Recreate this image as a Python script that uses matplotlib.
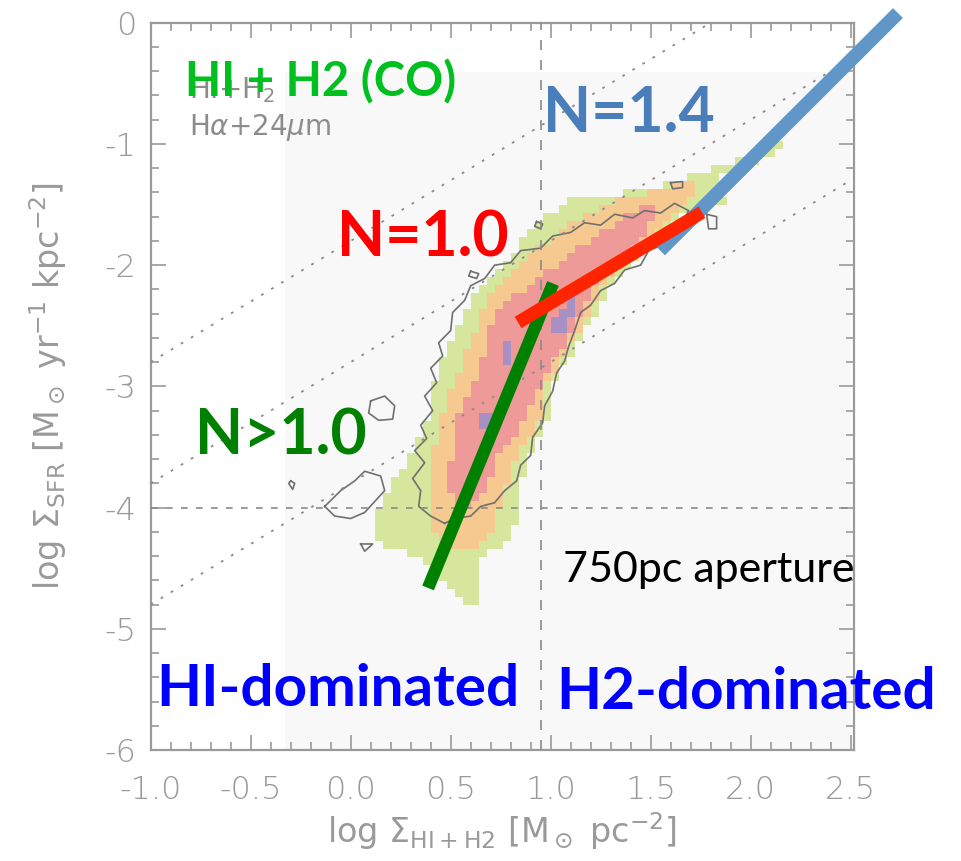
import numpy as np
import matplotlib
matplotlib.use("Agg")
import matplotlib.pyplot as plt
from matplotlib.colors import ListedColormap
from matplotlib.ticker import MultipleLocator, FormatStrFormatter

# --- density bands of the 750pc-aperture pixels (log Sigma_SFR rows, x-range per level)
green_y  = [-4.77, -4.61, -4.44, -4.27, -4.08, -3.80, -3.53, -3.26, -2.98, -2.70, -2.43,
            -2.29, -2.15, -1.96, -1.80, -1.63, -1.47, -1.38, -1.30, -1.18, -1.05, -0.97]
green_lo = [0.58, 0.45, 0.35, 0.13, 0.11, 0.21, 0.30, 0.38, 0.41, 0.48, 0.55,
            0.61, 0.65, 0.78, 0.85, 0.95, 1.08, 1.45, 1.62, 1.85, 2.02, 2.10]
green_hi = [0.65, 0.65, 0.63, 0.78, 0.83, 0.85, 0.91, 0.98, 1.01, 1.11, 1.21,
            1.25, 1.31, 1.41, 1.51, 1.61, 1.88, 1.85, 1.80, 1.98, 2.15, 2.18]

orange_y  = [-4.36, -4.27, -4.08, -3.80, -3.53, -3.26, -2.98, -2.70, -2.43, -2.29,
             -2.15, -1.96, -1.80, -1.63, -1.47, -1.38, -1.30]
orange_lo = [0.45, 0.43, 0.38, 0.38, 0.41, 0.45, 0.51, 0.58, 0.65, 0.68,
             0.75, 0.88, 0.98, 1.11, 1.30, 1.55, 1.67]
orange_hi = [0.60, 0.68, 0.73, 0.78, 0.85, 0.95, 0.98, 1.08, 1.18, 1.21,
             1.28, 1.38, 1.48, 1.58, 1.68, 1.75, 1.73]

pink_y  = [-4.00, -3.80, -3.53, -3.26, -2.98, -2.70, -2.43, -2.29, -2.15, -1.96,
           -1.80, -1.63, -1.50]
pink_lo = [0.52, 0.48, 0.51, 0.53, 0.61, 0.68, 0.71, 0.78, 0.91, 1.05,
           1.18, 1.35, 1.45]
pink_hi = [0.60, 0.68, 0.75, 0.88, 0.95, 1.05, 1.15, 1.18, 1.21, 1.35,
           1.45, 1.50, 1.55]

purple_y  = [-3.35, -3.20, np.nan, -2.85, -2.65, np.nan, -2.55, -2.40, -2.30, -2.22]
purple_lo = [0.64, 0.65, np.nan, 0.75, 0.75, np.nan, 0.98, 1.02, 1.08, 1.09]
purple_hi = [0.73, 0.72, np.nan, 0.82, 0.81, np.nan, 1.06, 1.10, 1.14, 1.13]

# --- outer HI+H2(CO) contour and its small islands
contour_x = [0.47, 0.40, 0.34, 0.35, 0.31, 0.37, 0.32, 0.38, 0.35, 0.41, 0.37, 0.43,
             0.40, 0.46, 0.44, 0.50, 0.51, 0.57, 0.60, 0.67, 0.72, 0.80, 0.85, 0.95,
             1.01, 1.10, 1.17, 1.25, 1.32, 1.41, 1.47, 1.55, 1.62, 1.69, 1.66, 1.59,
             1.55, 1.49, 1.45, 1.37, 1.32, 1.25, 1.20, 1.15, 1.12, 1.09, 1.07, 1.03,
             1.01, 0.97, 0.96, 0.91, 0.90, 0.85, 0.83, 0.77, 0.72, 0.65, 0.60, 0.52]
contour_y = [-4.13, -4.07, -3.99, -3.86, -3.76, -3.63, -3.53, -3.43, -3.32, -3.20,
             -3.08, -2.97, -2.85, -2.75, -2.64, -2.54, -2.39, -2.29, -2.17, -2.11,
             -2.00, -1.98, -1.88, -1.86, -1.76, -1.73, -1.65, -1.67, -1.58, -1.61,
             -1.55, -1.57, -1.49, -1.55, -1.65, -1.73, -1.84, -1.88, -2.00, -2.04,
             -2.15, -2.21, -2.33, -2.39, -2.54, -2.67, -2.79, -2.89, -3.04, -3.16,
             -3.30, -3.42, -3.57, -3.65, -3.78, -3.86, -3.96, -3.99, -4.07, -4.09]

islands_x = [[0.10, 0.17, 0.22, 0.21, 0.14, 0.09],
             [-0.13, -0.05, 0.02, 0.07, 0.15, 0.17, 0.12, 0.07, 0.00, -0.08],
             [0.05, 0.11, 0.07],
             [-0.30, -0.28, -0.29, -0.31],
             [1.60, 1.66, 1.66, 1.61],
             [1.78, 1.83, 1.83, 1.79],
             [0.93, 0.96, 0.95, 0.92],
             [0.60, 0.64, 0.63, 0.59]]
islands_y = [[-3.12, -3.08, -3.16, -3.27, -3.28, -3.22],
             [-3.99, -3.86, -3.78, -3.70, -3.74, -3.86, -3.95, -4.04, -4.09, -4.07],
             [-4.30, -4.30, -4.36],
             [-3.78, -3.80, -3.85, -3.80],
             [-1.32, -1.31, -1.36, -1.37],
             [-1.58, -1.60, -1.70, -1.70],
             [-1.64, -1.66, -1.70, -1.68],
             [-2.05, -2.07, -2.11, -2.09]]

# --- constant depletion-time lines (slope 1) and reference cuts
tdep_offsets = [-1.8, -2.8, -3.8]
hi_saturation = np.log10(9.0)
sfr_cut = -4.0

# --- hand-drawn power-law segments
seg_steep_x = [0.387, 1.012]
seg_steep_y = [-4.663, -2.151]
seg_n10_x = [0.837, 1.757]
seg_n10_y = [-2.473, -1.564]
seg_n14_x = [1.547, 2.737]
seg_n14_y = [-1.878, 0.080]

gray = "#9a9a9a"


def band_mask(xc, yc, by, blo, bhi):
    """True where a cell centre falls inside one band (NaN rows split patches)."""
    by, blo, bhi = map(np.asarray, (by, blo, bhi))
    out = np.zeros(xc.shape, dtype=bool)
    breaks = np.where(np.isnan(by))[0]
    for part in np.split(np.arange(len(by)), breaks):
        part = part[~np.isnan(by[part])]
        if len(part) < 2:
            continue
        py, plo, phi = by[part], blo[part], bhi[part]
        lo = np.interp(yc, py, plo)
        hi = np.interp(yc, py, phi)
        out |= (yc >= py.min()) & (yc <= py.max()) & (xc >= lo) & (xc <= hi)
    return out


# pixel grid of the map
xe = np.arange(-0.40, 2.50, 0.04)
ye = np.arange(-5.00, -0.80, 0.066)
XC, YC = np.meshgrid(0.5 * (xe[1:] + xe[:-1]), 0.5 * (ye[1:] + ye[:-1]))
level = np.zeros(XC.shape)
level[band_mask(XC, YC, green_y, green_lo, green_hi)] = 1
level[band_mask(XC, YC, orange_y, orange_lo, orange_hi)] = 2
level[band_mask(XC, YC, pink_y, pink_lo, pink_hi)] = 3
level[band_mask(XC, YC, purple_y, purple_lo, purple_hi)] = 4
level = np.ma.masked_equal(level, 0)
cmap = ListedColormap(["#d6e69c", "#f6c990", "#ee9a98", "#a690c4"])

fig = plt.figure(figsize=(9.62, 8.61), dpi=100)
ax = fig.add_axes([0.1567, 0.1289, 0.7310, 0.8447])
ax.set_xlim(-1.0, 2.517)
ax.set_ylim(-6.0, 0.0)

# faint background of the pixel map
ax.fill_between([-0.33, 2.5], -6.0, -0.41, color="#f8f8f8", lw=0, zorder=0)
ax.pcolormesh(xe, ye, level, cmap=cmap, vmin=0.5, vmax=4.5, zorder=1)

ax.plot(contour_x + contour_x[:1], contour_y + contour_y[:1], color="#707070", lw=1.2, zorder=5)
for ix, iy in zip(islands_x, islands_y):
    ax.plot(ix + ix[:1], iy + iy[:1], color="#707070", lw=1.2, zorder=5)

xx = np.array([-1.0, 2.6])
for off in tdep_offsets:
    ax.plot(xx, xx + off, color="#8a8a8a", lw=1.3, ls=(0, (1.5, 5)), zorder=6)
ax.axvline(hi_saturation, color="#8a8a8a", lw=1.2, ls=(0, (6, 6)), zorder=6)
ax.axhline(sfr_cut, color="#8a8a8a", lw=1.2, ls=(0, (4, 5)), zorder=6)

ax.plot(seg_n14_x, seg_n14_y, color="#6096c8", lw=10, solid_capstyle="butt",
        clip_on=False, zorder=8)
ax.plot(seg_steep_x, seg_steep_y, color="#008000", lw=9, solid_capstyle="butt", zorder=9)
ax.plot(seg_n10_x, seg_n10_y, color="#ff2400", lw=9.5, solid_capstyle="butt", zorder=10)

# axes styling
for s in ax.spines.values():
    s.set_color(gray)
    s.set_linewidth(1.6)
ax.xaxis.set_major_locator(MultipleLocator(0.5))
ax.xaxis.set_minor_locator(MultipleLocator(0.1))
ax.yaxis.set_major_locator(MultipleLocator(1))
ax.yaxis.set_minor_locator(MultipleLocator(0.2))
ax.xaxis.set_major_formatter(FormatStrFormatter("%.1f"))
ax.yaxis.set_major_formatter(FormatStrFormatter("%d"))
ax.tick_params(which="both", direction="in", top=True, right=True, color=gray, width=1.2)
ax.tick_params(which="major", length=11)
ax.tick_params(which="minor", length=5.5)
ax.tick_params(axis="x", which="major", pad=18, labelsize=23, labelcolor=gray)
ax.tick_params(axis="y", which="major", pad=10, labelsize=23, labelcolor=gray)
for lab in ax.get_xticklabels() + ax.get_yticklabels():
    lab.set_fontweight("light")

ax.set_xlabel(r"log $\Sigma_{\rm HI+H2}$ [M$_\odot$ pc$^{-2}$]", fontsize=24, color=gray, labelpad=4)
ax.set_ylabel(r"log $\Sigma_{\rm SFR}$ [M$_\odot$ yr$^{-1}$ kpc$^{-2}$]", fontsize=24, color=gray, labelpad=26)

# original plot legend text
ax.text(-0.81, -0.62, r"HI+H$_2$", fontsize=20, color="#8c8c8c", zorder=6)
ax.text(-0.81, -0.93, r"H$\alpha$+24$\mu$m", fontsize=20, color="#8c8c8c", zorder=6)

# annotations
bold = dict(family="Lato", fontweight="bold", zorder=12)
ax.text(-0.83, -0.61, "HI + H2 (CO)", fontsize=34, color="#00c020", **bold)
ax.text(0.96, -0.90, "N=1.4", fontsize=45, color="#4a7ebb", **bold)
ax.text(-0.07, -1.93, "N=1.0", fontsize=45, color="#ff0000", **bold)
ax.text(-0.78, -3.56, "N>1.0", fontsize=45, color="#008000", **bold)
ax.text(-0.97, -5.64, "HI-dominated", fontsize=42, color="#0000ff", **bold)
ax.text(1.03, -5.66, "H2-dominated", fontsize=42, color="#0000ff", **bold)
ax.text(1.06, -4.61, "750pc aperture", fontsize=31, color="black", family="Lato", zorder=12)

fig.savefig("out.png", dpi=100)
